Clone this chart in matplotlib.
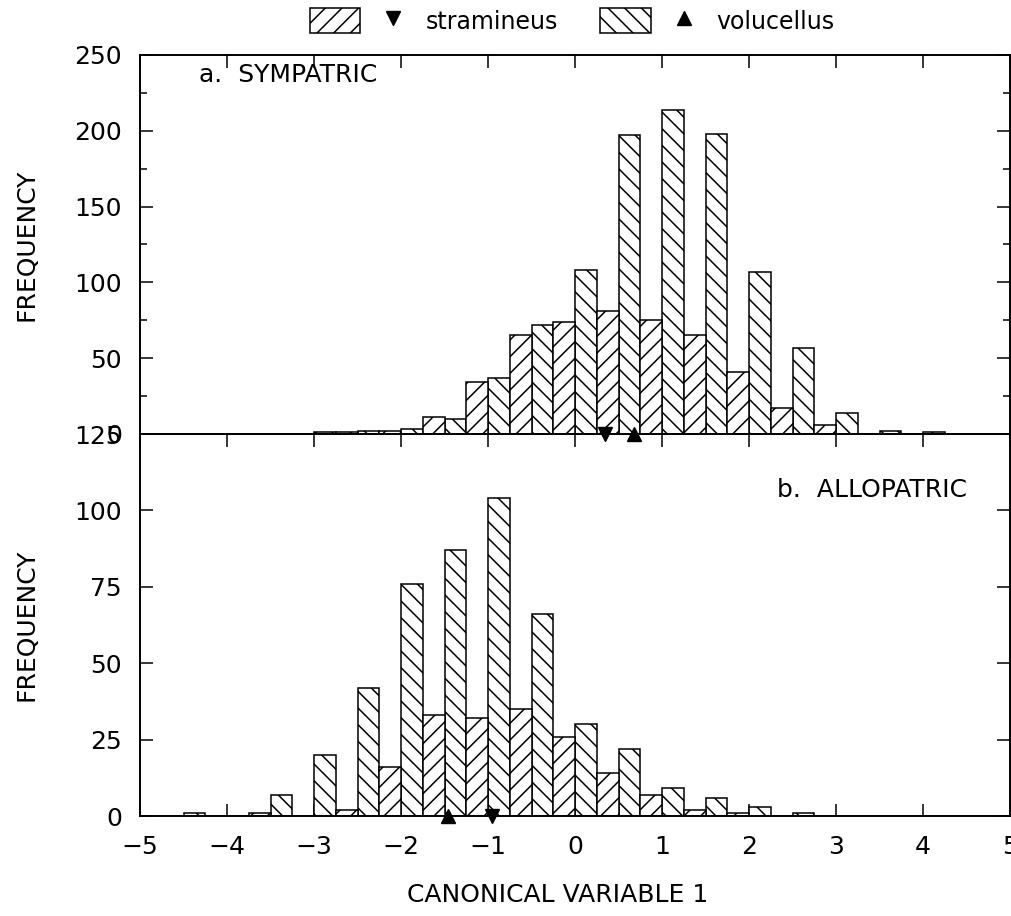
import numpy as np
import matplotlib
matplotlib.use('Agg')
import matplotlib.pyplot as plt
from matplotlib.patches import Patch
from matplotlib.lines import Line2D
from matplotlib.legend_handler import HandlerTuple
from matplotlib.ticker import MultipleLocator

plt.rcParams['font.family'] = ['DejaVu Sans']
plt.rcParams['font.size'] = 17
plt.rcParams['hatch.linewidth'] = 1.1

# each 0.5-wide class: volucellus in first quarter, stramineus in second
bin_start = np.arange(-5.0, 5.0, 0.5)

sym_vol = [0, 0, 0, 0, 1, 2, 3, 10, 37, 72, 108, 197, 214, 198, 107, 57, 14, 2, 1, 0]
sym_str = [0, 0, 0, 0, 1, 2, 11, 34, 65, 74, 81, 75, 65, 41, 17, 6, 0, 0, 0, 0]
allo_vol = [0, 1, 0, 7, 20, 42, 76, 87, 104, 66, 30, 22, 9, 6, 3, 1, 0, 0, 0, 0]
allo_str = [0, 0, 1, 0, 2, 16, 33, 32, 35, 26, 14, 7, 2, 1, 0, 0, 0, 0, 0, 0]

# group means
sym_means = {'stramineus': 0.34, 'volucellus': 0.68}
allo_means = {'stramineus': -0.95, 'volucellus': -1.46}

xticks = np.arange(-5, 6, 1)
W = 0.25
H_STR = '//'
H_VOL = '\\\\'
TICKFS = 18

fig = plt.figure(figsize=(10.11, 9.16), dpi=100)
axa = fig.add_axes([140/1011, 1 - 434/916, 870/1011, 379/916])
axb = fig.add_axes([140/1011, 1 - 816/916, 870/1011, 382/916])
axa.set_zorder(3)  # so the mean markers of panel a sit over panel b

def draw(ax, vol, stra, means):
    ax.bar(bin_start, vol, width=W, align='edge', facecolor='white',
           edgecolor='black', lw=1.1, hatch=H_VOL, zorder=2)
    ax.bar(bin_start + W, stra, width=W, align='edge', facecolor='white',
           edgecolor='black', lw=1.1, hatch=H_STR, zorder=2)
    ax.plot([means['stramineus']], [0], marker='v', color='k', ms=10,
            ls='', clip_on=False, zorder=5)
    ax.plot([means['volucellus']], [0], marker='^', color='k', ms=10,
            ls='', clip_on=False, zorder=5)
    ax.set_xlim(-5, 5)
    ax.set_xticks(xticks)
    for s in ax.spines.values():
        s.set_linewidth(1.4)
        s.set_zorder(4)

draw(axa, sym_vol, sym_str, sym_means)
draw(axb, allo_vol, allo_str, allo_means)

axa.set_ylim(0, 250)
axa.yaxis.set_major_locator(MultipleLocator(50))
axa.yaxis.set_minor_locator(MultipleLocator(25))
axa.tick_params(axis='x', which='both', direction='in', top=True, bottom=False,
                labelbottom=False, length=9, width=1.1)
axa.tick_params(axis='y', which='major', direction='in', left=True, right=True,
                length=9.4, width=1.1, pad=13, labelsize=TICKFS)
axa.tick_params(axis='y', which='minor', direction='in', left=True, right=True,
                length=5, width=1.1)

axb.set_ylim(0, 125)
axb.yaxis.set_major_locator(MultipleLocator(25))
axb.tick_params(axis='x', direction='in', top=True, bottom=True,
                length=9, width=1.1, pad=14, labelsize=TICKFS)
axb.tick_params(axis='y', direction='in', left=True, right=True,
                length=9.4, width=1.1, pad=13, labelsize=TICKFS)

axa.text(0.068, 0.947, 'a.  SYMPATRIC', transform=axa.transAxes,
         ha='left', va='center', fontsize=18)
axb.text(0.951, 0.853, 'b.  ALLOPATRIC', transform=axb.transAxes,
         ha='right', va='center', fontsize=18)

for ax in (axa, axb):
    ax.set_ylabel('FREQUENCY', fontsize=18)
    ax.yaxis.set_label_coords(-0.117, 0.5)
axb.set_xlabel('CANONICAL VARIABLE 1', fontsize=18)
axb.xaxis.set_label_coords(0.48, -0.175)

handles = [
    (Patch(facecolor='white', edgecolor='black', hatch=H_STR, lw=1.1),
     Line2D([], [], marker='v', color='k', ls='', ms=10)),
    (Patch(facecolor='white', edgecolor='black', hatch=H_VOL, lw=1.1),
     Line2D([], [], marker='^', color='k', ls='', ms=10)),
]
fig.legend(handles, ['stramineus', 'volucellus'], ncol=2, frameon=False,
           loc='center', bbox_to_anchor=(572/1011, 1 - 21/916),
           handler_map={tuple: HandlerTuple(ndivide=None, pad=0.35)},
           handlelength=4.6, handleheight=1.2, handletextpad=0.3,
           columnspacing=1.8, fontsize=17)

fig.savefig('out.png', dpi=100)
